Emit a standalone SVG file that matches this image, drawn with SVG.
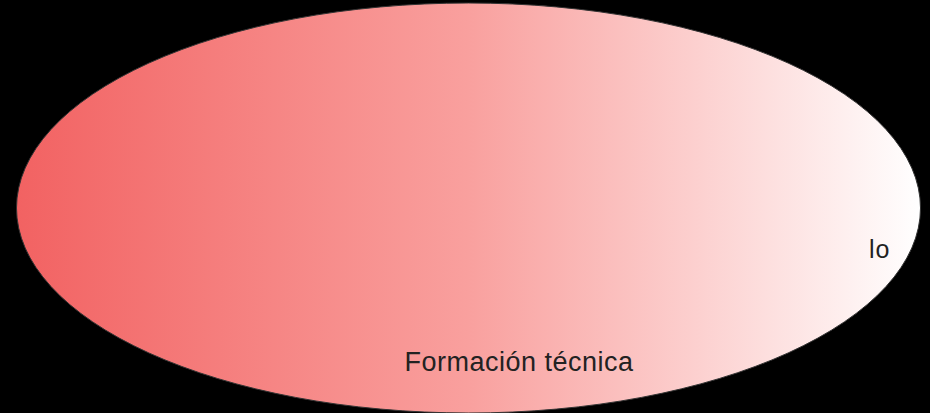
<svg xmlns="http://www.w3.org/2000/svg" width="930" height="413" viewBox="0 0 930 413">
<defs>
<linearGradient id="g" x1="0" y1="0" x2="1" y2="0">
<stop offset="0" stop-color="#f26262"/>
<stop offset="0.5" stop-color="#f9a09e"/>
<stop offset="1" stop-color="#ffffff"/>
</linearGradient>
<style>
.t{font-family:"Liberation Sans",Arial,sans-serif;fill:#222;}
</style>
</defs>
<rect width="930" height="413" fill="#000"/>
<g id="node-ellipse">
<ellipse cx="468.5" cy="208" rx="452" ry="205" fill="url(#g)" stroke="#333" stroke-width="1"/>
<text class="t" x="519" y="371" font-size="27" letter-spacing="0.5" text-anchor="middle">Formación técnica</text>
<text class="t" x="869" y="258" font-size="25" letter-spacing="1">lo</text>
</g>
</svg>
